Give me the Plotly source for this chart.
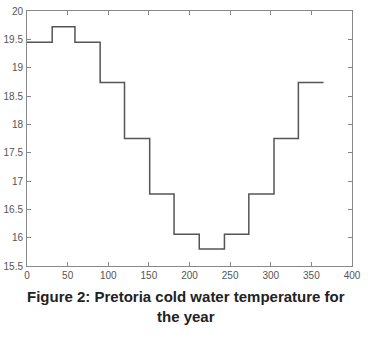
import plotly.graph_objects as go

# Month start days (plus year end) and monthly cold water temperature (°C)
day_edges = [0, 31, 59, 90, 120, 151, 181, 212, 243, 273, 304, 334, 365]
temps = [19.45, 19.72, 19.45, 18.74, 17.75, 16.77, 16.06, 15.80, 16.06, 16.77, 17.75, 18.74]
x_ticks = [0, 50, 100, 150, 200, 250, 300, 350, 400]
y_ticks = [15.5, 16, 16.5, 17, 17.5, 18, 18.5, 19, 19.5, 20]

fig = go.Figure()
fig.add_trace(go.Scatter(
    x=day_edges,
    y=temps + [temps[-1]],
    mode="lines",
    line=dict(shape="hv", color="#555555", width=1.5),
    showlegend=False,
))

axis_common = dict(
    showgrid=False, zeroline=False, showline=True, linecolor="#888888", linewidth=1,
    mirror="ticks", ticks="inside", ticklen=4, tickcolor="#888888", automargin=False,
    tickfont=dict(family="Liberation Sans, Arial, sans-serif", size=10, color="#555555"),
)
fig.update_xaxes(range=[0, 400], tickvals=x_ticks, ticktext=[str(v) for v in x_ticks], **axis_common)
fig.update_yaxes(range=[15.5, 20], tickvals=y_ticks, ticktext=[f"{v:g}" for v in y_ticks],
                 ticklabelstandoff=1, **axis_common)

fig.add_annotation(
    text="<b>Figure 2: Pretoria cold water temperature for<br>the year</b>",
    xref="paper", yref="paper", x=0.489, y=-0.078, xanchor="center", yanchor="top",
    showarrow=False, align="center",
    font=dict(family="Liberation Sans, Arial, sans-serif", size=15, color="#222222"),
)

fig.update_layout(
    width=373, height=342,
    margin=dict(l=27, r=21, t=11, b=76),
    plot_bgcolor="white", paper_bgcolor="white",
)
fig.write_html("out.html", config={"displayModeBar": False},
               post_script="document.body.style.margin='0';")
